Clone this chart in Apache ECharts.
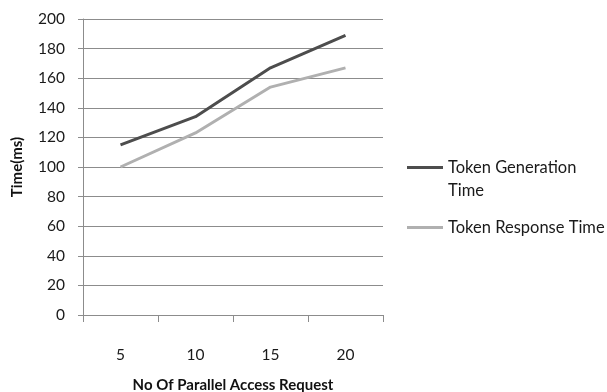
<!DOCTYPE html>
<html>
<head>
<meta charset="utf-8">
<script src="https://cdn.jsdelivr.net/npm/echarts@6/dist/echarts.min.js"></script>
<style>
  html, body { margin: 0; padding: 0; background: #fff; }
  #chart { width: 607px; height: 392px; }
</style>
</head>
<body>
<div id="chart"></div>
<script>
// Parallel access requests on the x axis
const categories = ['5', '10', '15', '20'];
// Measured times in milliseconds
const tokenGeneration = [115, 134, 167, 189];
const tokenResponse = [100, 123, 154, 167];
const seriesNames = ['Token Generation Time', 'Token Response Time'];

const FONT = 'Lato, "Open Sans", sans-serif';
const chart = echarts.init(document.getElementById('chart'));

chart.setOption({
  animation: false,
  backgroundColor: '#ffffff',
  grid: { left: 83, right: 224, top: 19, bottom: 77, outerBoundsMode: 'none' },
  legend: {
    orient: 'vertical',
    left: 407,
    top: 133,
    padding: 0,
    icon: 'rect',
    itemWidth: 36,
    itemHeight: 3,
    itemGap: 14,
    data: seriesNames,
    // the wrapped label starts with a blank line so its first line sits level with the key line
    formatter: function (name) {
      return name === seriesNames[0] ? '\nToken Generation\nTime' : name;
    },
    textStyle: {
      fontFamily: FONT,
      fontSize: 16.5,
      color: '#1a1a1a',
      lineHeight: 23
    }
  },
  xAxis: {
    type: 'category',
    data: categories,
    boundaryGap: true,
    name: 'No Of Parallel Access Request',
    nameLocation: 'middle',
    nameGap: 63,
    nameTextStyle: { fontFamily: FONT, fontSize: 15, fontWeight: 'bold', color: '#111' },
    axisLine: { lineStyle: { color: '#8c8c8c', width: 1 } },
    axisTick: { show: true, length: 7, alignWithLabel: false, lineStyle: { color: '#8c8c8c' } },
    axisLabel: { fontFamily: FONT, fontSize: 15.5, color: '#1a1a1a', margin: 32 }
  },
  yAxis: {
    type: 'value',
    min: 0,
    max: 200,
    interval: 20,
    name: 'Time(ms)',
    nameLocation: 'middle',
    nameGap: 58,
    nameRotate: 90,
    nameTextStyle: { fontFamily: FONT, fontSize: 15, fontWeight: 'bold', color: '#111' },
    axisLine: { show: true, lineStyle: { color: '#8c8c8c', width: 1 } },
    axisTick: { show: true, length: 5, lineStyle: { color: '#8c8c8c' } },
    axisLabel: { fontFamily: FONT, fontSize: 15.5, color: '#1a1a1a', margin: 18 },
    splitLine: { show: true, lineStyle: { color: '#8c8c8c', width: 1 } }
  },
  series: [
    {
      name: seriesNames[0],
      type: 'line',
      data: tokenGeneration,
      symbol: 'none',
      color: '#4d4d4d',
      lineStyle: { color: '#4d4d4d', width: 3 }
    },
    {
      name: seriesNames[1],
      type: 'line',
      data: tokenResponse,
      symbol: 'none',
      color: '#b0b0b0',
      lineStyle: { color: '#b0b0b0', width: 3 }
    }
  ]
});
</script>
</body>
</html>
